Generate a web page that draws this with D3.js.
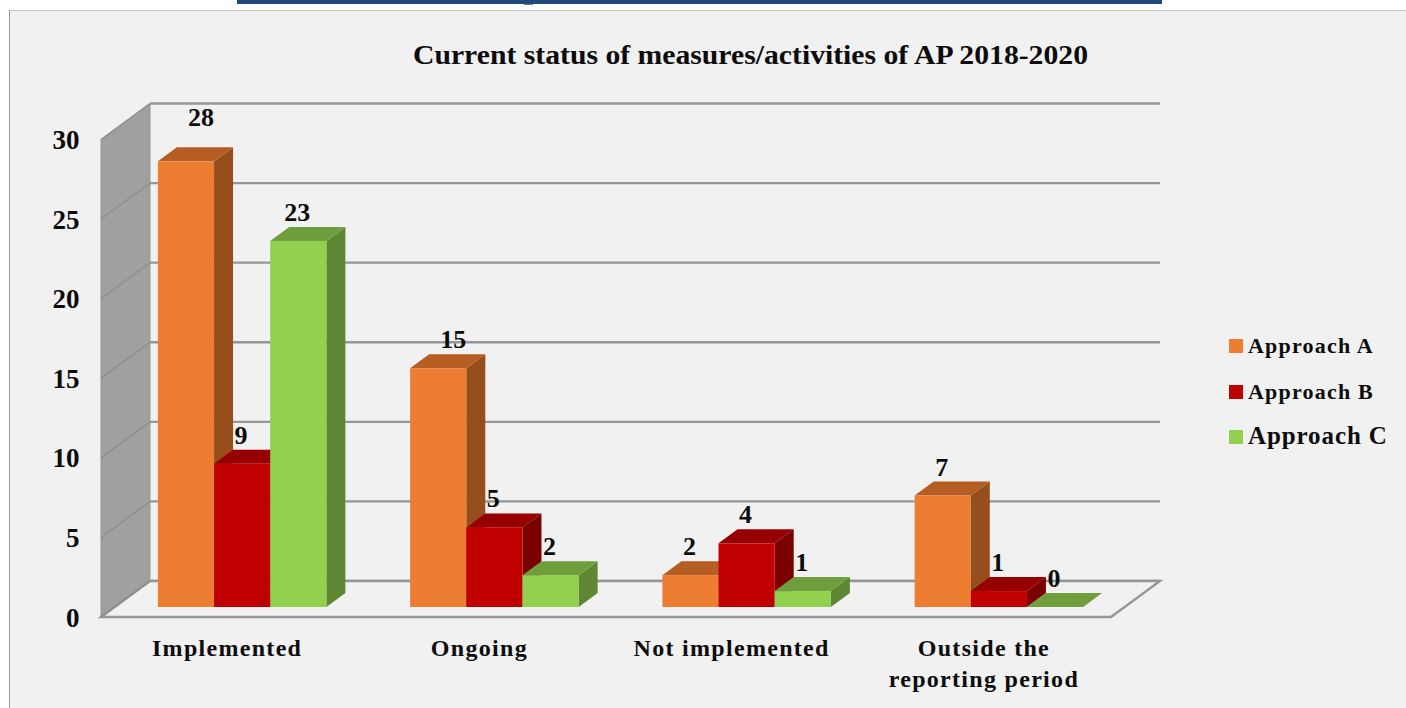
<!DOCTYPE html>
<html>
<head>
<meta charset="utf-8">
<script src="https://cdn.jsdelivr.net/npm/d3@7"></script>
<style>
  html, body { margin: 0; padding: 0; background: #fff; overflow: hidden; }
  svg { display: block; }
  text { font-family: "Liberation Serif", serif; font-weight: bold; fill: #0c0c0c; }
</style>
</head>
<body>
<div id="chart"></div>
<script>
// Data
const categories = ["Implemented", "Ongoing", "Not implemented", "Outside the reporting period"];
const seriesNames = ["Approach A", "Approach B", "Approach C"];
const approachA = [28, 15, 2, 7];
const approachB = [9, 5, 4, 1];
const approachC = [23, 2, 1, 0];
const yTicks = [0, 5, 10, 15, 20, 25, 30];
const chartTitle = "Current status of measures/activities of AP 2018-2020";

const seriesValues = [approachA, approachB, approachC];

// Setting dimensions
const width = 1406, height = 708;

// Front edge of the floor and the depth of the 3D box
const floorLeft = 101, floorRight = 1111, floorY = 617;
const depthX = 49, depthY = -36;

// Bars sit part way into the box
const barBase = 607, barDepthX = 19, barDepthY = -14;

// Colours: front, top, side
const colors = [
  { front: "#ed7d31", top: "#b55d22", side: "#964f1c" },
  { front: "#c00000", top: "#960000", side: "#7a0000" },
  { front: "#92d050", top: "#6f9f3c", side: "#5f8733" }
];

const svg = d3.select("#chart")
  .append("svg")
  .attr("width", width)
  .attr("height", height);

// Panel and the blue bar above it
svg.append("rect")
  .attr("x", 9.5).attr("y", 10.5)
  .attr("width", width).attr("height", height)
  .attr("fill", "#f1f1f1")
  .attr("stroke", "#c4c4c4");
svg.append("line")
  .attr("x1", 9.5).attr("x2", 9.5).attr("y1", 10).attr("y2", height)
  .attr("stroke", "#999");
svg.append("rect")
  .attr("x", 237).attr("y", 0).attr("width", 925).attr("height", 4)
  .attr("fill", "#1f497d");
svg.append("rect")
  .attr("x", 524).attr("y", 4).attr("width", 9).attr("height", 1)
  .attr("fill", "#5f81a8");

// Scales
const y = d3.scaleLinear().domain([0, 30]).range([0, -477.5]);
const x = d3.scaleBand()
  .domain(categories)
  .range([116, 1125]);
const xInner = d3.scaleBand()
  .domain(d3.range(seriesNames.length))
  .range([0, 168.5]);

// Left wall
const wall = [
  [floorLeft, floorY],
  [floorLeft, floorY + y(30)],
  [floorLeft + depthX, floorY + y(30) + depthY],
  [floorLeft + depthX, floorY + depthY]
];
svg.append("polygon")
  .attr("points", wall.join(" "))
  .attr("fill", "#a0a0a0")
  .attr("stroke", "#979797");

// Gridlines on the back and the left wall
const grid = svg.append("g").selectAll("g")
  .data(yTicks)
  .enter()
  .append("g");

grid.append("line")
  .attr("x1", floorLeft + depthX)
  .attr("x2", floorRight + depthX)
  .attr("y1", d => floorY + depthY + y(d))
  .attr("y2", d => floorY + depthY + y(d))
  .attr("stroke", "#969696")
  .attr("stroke-width", 2.4);

grid.append("line")
  .attr("x1", floorLeft)
  .attr("x2", floorLeft + depthX)
  .attr("y1", d => floorY + y(d))
  .attr("y2", d => floorY + depthY + y(d))
  .attr("stroke", "#8c8c8c")
  .attr("stroke-width", 1.2);

// Floor
const floorPoints = [
  [floorLeft, floorY],
  [floorRight, floorY],
  [floorRight + depthX, floorY + depthY],
  [floorLeft + depthX, floorY + depthY]
];
svg.append("polygon")
  .attr("points", floorPoints.join(" "))
  .attr("fill", "#f1f1f1");
svg.append("polyline")
  .attr("points", [floorPoints[3], floorPoints[0], floorPoints[1], floorPoints[2], floorPoints[3]].join(" "))
  .attr("fill", "none")
  .attr("stroke", "#969696")
  .attr("stroke-width", 2.4);
svg.append("line")
  .attr("x1", floorLeft).attr("x2", floorLeft + depthX)
  .attr("y1", floorY).attr("y2", floorY + depthY)
  .attr("stroke", "#8c8c8c")
  .attr("stroke-width", 1.2);

// Y axis tick labels
svg.append("g").selectAll("text")
  .data(yTicks)
  .enter()
  .append("text")
  .attr("x", 79.5)
  .attr("y", d => floorY + y(d) + 9.5)
  .attr("text-anchor", "end")
  .style("font-size", "27px")
  .text(d => d);

// Building the bars
const flat = [];
categories.forEach(function (c, i) {
  seriesValues.forEach(function (values, s) {
    flat.push({ category: c, series: s, value: values[i] });
  });
});

function barX(d) {
  return x(d.category) + (x.bandwidth() - 168.5) / 2 + xInner(d.series);
}

const barW = xInner.bandwidth();

const bars = svg.append("g").selectAll("g")
  .data(flat)
  .enter()
  .append("g")
  .attr("transform", d => "translate(" + barX(d) + "," + barBase + ")");

bars.append("polygon")
  .attr("points", d => [[barW, 0], [barW + barDepthX, barDepthY], [barW + barDepthX, y(d.value) + barDepthY], [barW, y(d.value)]].join(" "))
  .attr("fill", d => colors[d.series].side);

bars.append("polygon")
  .attr("points", d => [[0, y(d.value)], [barDepthX, y(d.value) + barDepthY], [barW + barDepthX, y(d.value) + barDepthY], [barW, y(d.value)]].join(" "))
  .attr("fill", d => colors[d.series].top);

bars.append("rect")
  .attr("x", 0)
  .attr("y", d => y(d.value))
  .attr("width", barW)
  .attr("height", d => -y(d.value))
  .attr("fill", d => colors[d.series].front);

// Value labels; a few were moved by hand in the original
function labelShift(d) {
  if (d.value === 28) return [16, -15];
  if (d.value === 15) return [16, 0];
  return [0, 0];
}

svg.append("g").selectAll("text")
  .data(flat)
  .enter()
  .append("text")
  .attr("x", d => barX(d) + 27 + labelShift(d)[0])
  .attr("y", d => barBase + y(d.value) + barDepthY - 6 + labelShift(d)[1])
  .attr("text-anchor", "middle")
  .style("font-size", "26px")
  .text(d => d.value);

// Category labels
const catLabels = svg.append("g").selectAll("text")
  .data(categories)
  .enter()
  .append("text")
  .attr("x", d => x(d) + x.bandwidth() / 2 - 15)
  .attr("y", 656)
  .attr("text-anchor", "middle")
  .style("font-size", "24px")
  .style("letter-spacing", "1.3px");

catLabels.each(function (d) {
  if (d === "Outside the reporting period") {
    d3.select(this).append("tspan").attr("x", d3.select(this).attr("x")).text("Outside the");
    d3.select(this).append("tspan").attr("x", d3.select(this).attr("x")).attr("dy", 31).text("reporting period");
  } else {
    d3.select(this).text(d);
  }
});

// Title, stretched a little like the original
svg.append("text")
  .attr("x", 750.5)
  .attr("y", 64)
  .attr("text-anchor", "middle")
  .attr("textLength", 675)
  .attr("lengthAdjust", "spacingAndGlyphs")
  .style("font-size", "27px")
  .text(chartTitle);

// Legend
const legend = svg.append("g").selectAll("g")
  .data(seriesNames)
  .enter()
  .append("g")
  .attr("transform", (d, i) => "translate(1229," + [339, 385, 430][i] + ")");

legend.append("rect")
  .attr("width", 14)
  .attr("height", 14)
  .attr("fill", (d, i) => colors[i].front);

legend.append("text")
  .attr("x", 19)
  .attr("y", 14)
  .style("font-size", (d, i) => i === 2 ? "25px" : "22px")
  .style("letter-spacing", (d, i) => i === 2 ? "0.9px" : "1.2px")
  .text(d => d);
</script>
</body>
</html>
